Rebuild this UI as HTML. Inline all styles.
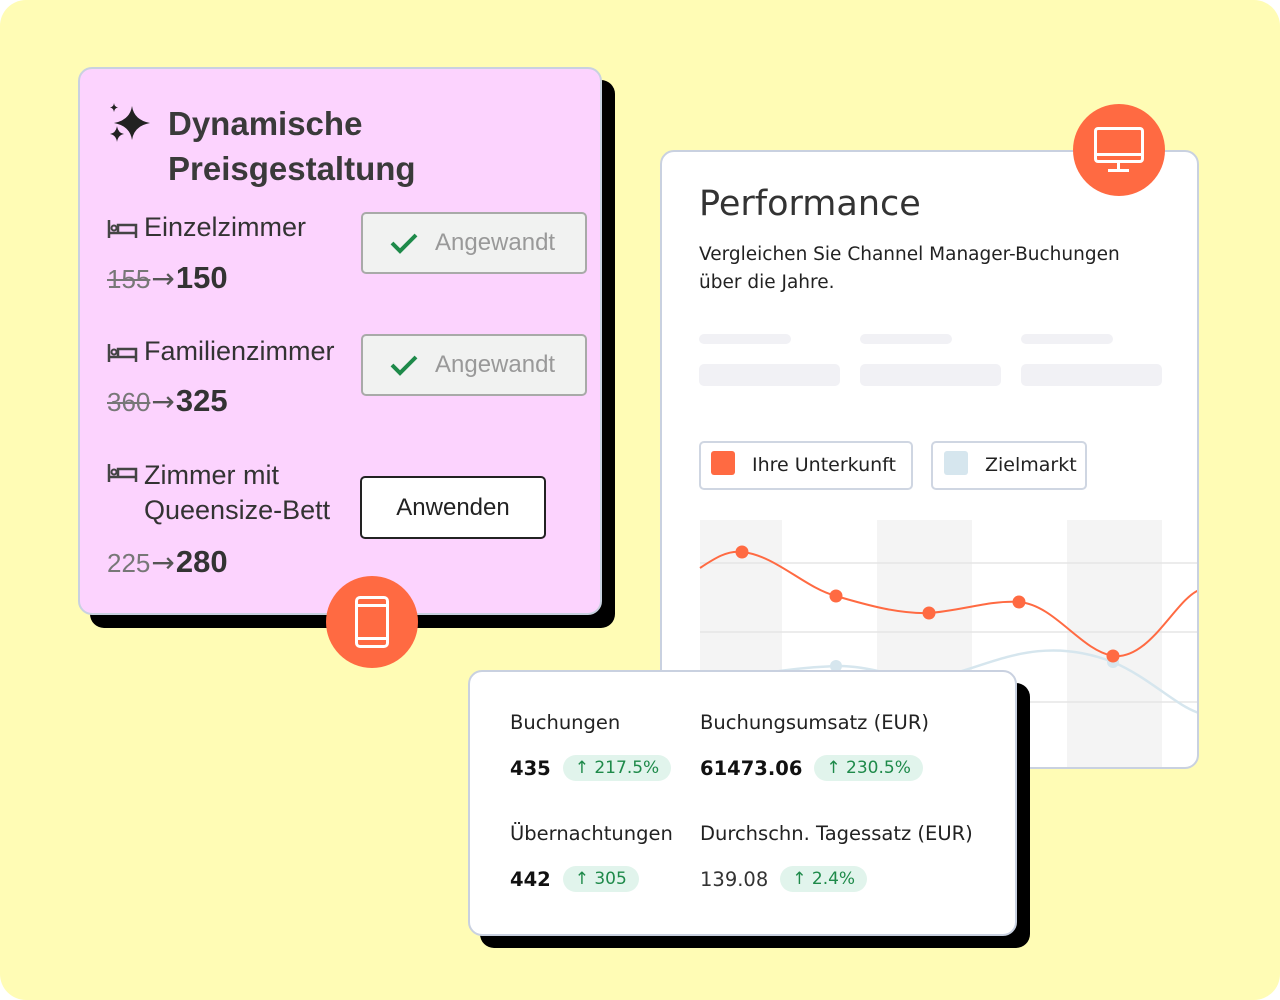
<!DOCTYPE html>
<html><head><meta charset="utf-8"><style>
*{box-sizing:border-box;margin:0;padding:0}
body{width:1280px;height:1000px;background:#fff;position:relative;overflow:hidden;font-family:"Liberation Sans","DejaVu Sans",sans-serif}
.bg{position:absolute;left:0;top:0;width:1280px;height:1000px;background:#fffcb5;border-radius:26px}
.abs{position:absolute}
.pink{left:78px;top:67px;width:524px;height:548px;background:#fcd3fe;border:2px solid #c9d1e0;border-radius:14px}
.shadow{background:#000;border-radius:14px}
.t{position:absolute;color:#333;white-space:nowrap}
.btn{position:absolute;border-radius:5px;font-size:24px;display:flex;align-items:center}
.ok{left:361px;width:226px;height:62px;background:#f1f2f1;border:2px solid #a8aaa8;color:#999}
.old{color:#777;text-decoration:line-through;font-size:26px}
.arr{color:#555;font-size:28px;font-family:"DejaVu Sans",sans-serif;margin:0 1px}
.card{background:#fff;border:2px solid #c9d1e0;border-radius:14px}
.skel{position:absolute;background:#f1f1f5;border-radius:5px}
.s{font-family:"DejaVu Sans",sans-serif;color:#222}
.pill{display:inline-block;background:#e1f4ec;color:#1e8a4a;border-radius:15px;font-size:17px;padding:3px 12px;margin-left:12px;font-weight:normal;vertical-align:2px}
</style></head><body>
<div class="bg"></div>
<div class="abs shadow" style="left:90px;top:80px;width:525px;height:548px"></div>
<div class="abs pink"></div>
<svg class="abs" style="left:106px;top:102px" width="48" height="46" viewBox="0 0 48 46"><path d="M26 4 Q28 18 44 21 Q28 24 26 38 Q24 24 8 21 Q24 18 26 4Z" fill="#222"/><path d="M11 24 Q12 31 18 32 Q12 33 11 40 Q10 33 4 32 Q10 31 11 24Z" fill="#222"/><path d="M8 1 Q8.5 5 12 5.5 Q8.5 6 8 10 Q7.5 6 4 5.5 Q7.5 5 8 1Z" fill="#222"/></svg>
<div class="t" style="left:168px;top:101px;font-size:33px;font-weight:bold;line-height:45px;color:#3a3a3a">Dynamische<br>Preisgestaltung</div>
<svg class="abs" style="left:107px;top:218px" width="32" height="22"><path d="M2 2V20M2 15H29V20M11 15V7H29V15" stroke="#444" stroke-width="2.5" fill="none"/><circle cx="7" cy="10" r="2.5" fill="none" stroke="#444" stroke-width="2"/></svg>
<div class="t" style="left:144px;top:212px;font-size:27px">Einzelzimmer</div>
<div class="t" style="left:107px;top:260px;font-size:31px"><span class="old">155</span><span class="arr">→</span><b>150</b></div>
<div class="btn ok" style="top:212px"><svg style="margin-left:26px" width="30" height="24"><polyline points="3,12 11,20 27,4" stroke="#1e8a4a" stroke-width="4" fill="none"/></svg><span style="margin-left:16px">Angewandt</span></div>
<svg class="abs" style="left:107px;top:342px" width="32" height="22"><path d="M2 2V20M2 15H29V20M11 15V7H29V15" stroke="#444" stroke-width="2.5" fill="none"/><circle cx="7" cy="10" r="2.5" fill="none" stroke="#444" stroke-width="2"/></svg>
<div class="t" style="left:144px;top:336px;font-size:27px">Familienzimmer</div>
<div class="t" style="left:107px;top:383px;font-size:31px"><span class="old">360</span><span class="arr">→</span><b>325</b></div>
<div class="btn ok" style="top:334px"><svg style="margin-left:26px" width="30" height="24"><polyline points="3,12 11,20 27,4" stroke="#1e8a4a" stroke-width="4" fill="none"/></svg><span style="margin-left:16px">Angewandt</span></div>
<svg class="abs" style="left:107px;top:462px" width="32" height="22"><path d="M2 2V20M2 15H29V20M11 15V7H29V15" stroke="#444" stroke-width="2.5" fill="none"/><circle cx="7" cy="10" r="2.5" fill="none" stroke="#444" stroke-width="2"/></svg>
<div class="t" style="left:144px;top:458px;font-size:27px;line-height:35px">Zimmer mit<br>Queensize-Bett</div>
<div class="t" style="left:107px;top:544px;font-size:31px"><span style="color:#777;font-size:26px">225</span><span class="arr">→</span><b>280</b></div>
<div class="btn" style="left:360px;top:476px;width:186px;height:63px;background:#fff;border:2px solid #222;justify-content:center;color:#222">Anwenden</div>
<div class="abs" style="left:326px;top:576px;width:92px;height:92px;border-radius:50%;background:#ff6a42"></div>
<div class="abs" style="left:355px;top:596px;width:34px;height:52px;border:3px solid #fff;border-radius:5px"></div>
<div class="abs" style="left:355px;top:604px;width:34px;height:3px;background:#fff"></div>
<div class="abs" style="left:355px;top:637px;width:34px;height:3px;background:#fff"></div>

<div class="abs card" style="left:660px;top:150px;width:539px;height:619px;overflow:hidden">
<svg class="abs" style="left:-2px;top:-2px" width="539" height="619">
<rect x="40" y="370" width="82" height="260" fill="#f4f4f4"/>
<rect x="217" y="370" width="95" height="260" fill="#f4f4f4"/>
<rect x="407" y="370" width="95" height="260" fill="#f4f4f4"/>
<line x1="40" y1="413" x2="539" y2="413" stroke="#e5e5e5" stroke-width="1.5"/>
<line x1="40" y1="482" x2="539" y2="482" stroke="#e5e5e5" stroke-width="1.5"/>
<line x1="40" y1="552" x2="539" y2="552" stroke="#e5e5e5" stroke-width="1.5"/>
<path d="M40 540 C80 525 130 518 176 516 C210 515 240 530 269 528 C320 524 370 480 453 512 C490 528 515 555 539 563" stroke="#d6e6ee" stroke-width="2.5" fill="none"/>
<circle cx="176" cy="516" r="6" fill="#d6e6ee"/><circle cx="453" cy="512" r="6" fill="#d6e6ee"/>
<path d="M40 418 C55 408 68 400 82 402 C115 405 145 438 176 446 C210 456 240 464 269 463 C300 461 330 450 359 452 C395 455 420 500 453 506 C490 510 515 450 539 440" stroke="#ff6a42" stroke-width="2" fill="none"/>
<g fill="#ff6a42"><circle cx="82" cy="402" r="6.5"/><circle cx="176" cy="446" r="6.5"/><circle cx="269" cy="463" r="6.5"/><circle cx="359" cy="452" r="6.5"/><circle cx="453" cy="506" r="6.5"/></g>
</svg>
</div>
<div class="t s" style="left:699px;top:184px;font-size:35px;color:#333">Performance</div>
<div class="t s" style="left:699px;top:241px;font-size:18.5px;line-height:28px">Vergleichen Sie Channel Manager-Buchungen<br>über die Jahre.</div>
<div class="skel" style="left:699px;top:334px;width:92px;height:10px"></div>
<div class="skel" style="left:860px;top:334px;width:92px;height:10px"></div>
<div class="skel" style="left:1021px;top:334px;width:92px;height:10px"></div>
<div class="skel" style="left:699px;top:364px;width:141px;height:22px"></div>
<div class="skel" style="left:860px;top:364px;width:141px;height:22px"></div>
<div class="skel" style="left:1021px;top:364px;width:141px;height:22px"></div>
<div class="abs" style="left:699px;top:441px;width:214px;height:49px;border:2px solid #cfd6e2;border-radius:5px;background:#fff"></div>
<div class="abs" style="left:711px;top:451px;width:24px;height:24px;background:#ff6a42;border-radius:3px"></div>
<div class="t s" style="left:752px;top:454px;font-size:19px">Ihre Unterkunft</div>
<div class="abs" style="left:931px;top:441px;width:156px;height:49px;border:2px solid #cfd6e2;border-radius:5px;background:#fff"></div>
<div class="abs" style="left:944px;top:451px;width:24px;height:24px;background:#d6e6ee;border-radius:3px"></div>
<div class="t s" style="left:985px;top:454px;font-size:19px">Zielmarkt</div>
<div class="abs" style="left:1073px;top:104px;width:92px;height:92px;border-radius:50%;background:#ff6a42"></div>
<div class="abs" style="left:1094px;top:127px;width:50px;height:36px;border:3px solid #fff;border-radius:4px"></div>
<div class="abs" style="left:1094px;top:153px;width:50px;height:3px;background:#fff"></div>
<div class="abs" style="left:1117px;top:163px;width:3px;height:7px;background:#fff"></div>
<div class="abs" style="left:1108px;top:169px;width:21px;height:3px;background:#fff"></div>

<div class="abs shadow" style="left:480px;top:683px;width:550px;height:265px"></div>
<div class="abs card" style="left:468px;top:670px;width:549px;height:266px"></div>
<div class="t s" style="left:510px;top:711px;font-size:19.5px">Buchungen</div>
<div class="t s" style="left:700px;top:711px;font-size:19.5px">Buchungsumsatz (EUR)</div>
<div class="t s" style="left:510px;top:755px;font-size:19.5px;font-weight:bold;color:#111">435<span class="pill">↑ 217.5%</span></div>
<div class="t s" style="left:700px;top:755px;font-size:19.5px;font-weight:bold;color:#111">61473.06<span class="pill">↑ 230.5%</span></div>
<div class="t s" style="left:510px;top:822px;font-size:19.5px">Übernachtungen</div>
<div class="t s" style="left:700px;top:822px;font-size:19.5px">Durchschn. Tagessatz (EUR)</div>
<div class="t s" style="left:510px;top:866px;font-size:19.5px;font-weight:bold;color:#111">442<span class="pill">↑ 305</span></div>
<div class="t s" style="left:700px;top:866px;font-size:19.5px;color:#333">139.08<span class="pill">↑ 2.4%</span></div>
</body></html>
